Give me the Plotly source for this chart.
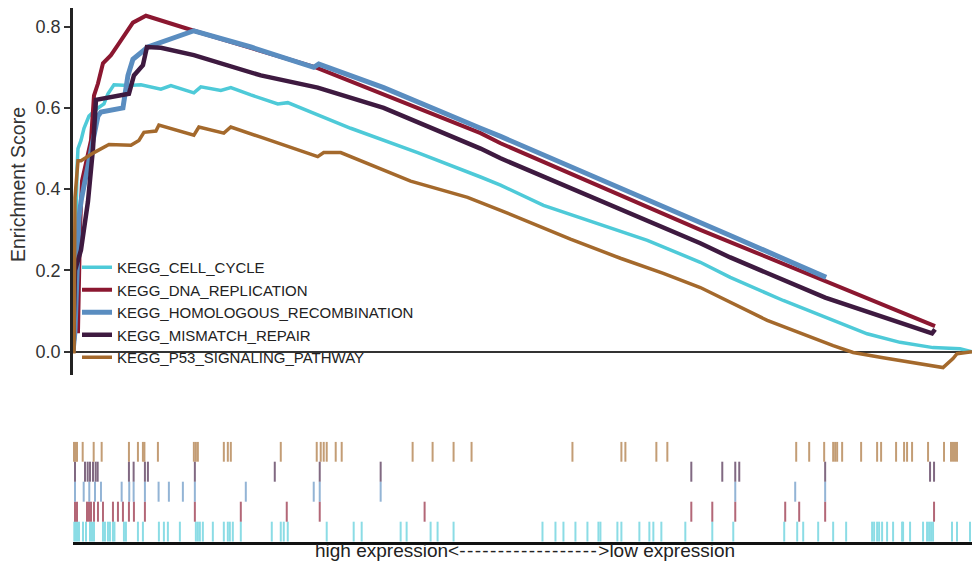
import plotly.graph_objects as go

# ---------------- data ----------------
N_GENES = 18000

set_names = ["KEGG_CELL_CYCLE", "KEGG_DNA_REPLICATION", "KEGG_HOMOLOGOUS_RECOMBINATION",
             "KEGG_MISMATCH_REPAIR", "KEGG_P53_SIGNALING_PATHWAY"]
set_colors = ["#4ECAD8", "#8B1730", "#5A8DC0", "#3E1A40", "#A4692C"]
line_widths = [3.5, 4, 5, 4.5, 3.5]

# running enrichment score curves (rank, ES)
cc_rank = [0, 20, 80, 100, 160, 220, 320, 500, 620, 700, 820, 1100, 1360, 1760, 1960, 2420, 2560,
           2960, 3160, 3560, 4100, 4300, 5560, 6900, 8160, 8560, 9420, 10500, 11500, 12560, 13160,
           14220, 15900, 16560, 17220, 17760, 18000]
cc_es = [0, 0.03, 0.45, 0.50, 0.52, 0.55, 0.58, 0.60, 0.61, 0.635, 0.657, 0.655, 0.657, 0.646, 0.655,
         0.637, 0.652, 0.643, 0.65, 0.632, 0.61, 0.613, 0.55, 0.49, 0.43, 0.41, 0.36, 0.316, 0.274,
         0.22, 0.183, 0.126, 0.044, 0.023, 0.01, 0.007, 0.0]

dna_rank = [0, 40, 100, 140, 180, 360, 420, 500, 600, 760, 900, 1200, 1460, 2420, 4860, 8160, 8560,
            12560, 17260]
dna_es = [0, 0.05, 0.05, 0.30, 0.42, 0.52, 0.63, 0.66, 0.71, 0.73, 0.755, 0.81, 0.827, 0.79, 0.70,
          0.538, 0.513, 0.30, 0.063]

hr_rank = [0, 40, 120, 160, 400, 500, 560, 1000, 1100, 1200, 1500, 1960, 2420, 3560, 4820, 4920,
           6220, 8160, 8560, 13160, 15080]
hr_es = [0, 0.05, 0.33, 0.37, 0.52, 0.58, 0.59, 0.60, 0.68, 0.72, 0.75, 0.77, 0.79, 0.75, 0.70, 0.708,
         0.65, 0.55, 0.53, 0.286, 0.183]

mmr_rank = [0, 40, 160, 300, 400, 460, 1120, 1220, 1400, 1480, 1760, 2420, 3760, 4900, 6220, 8160,
            8560, 12560, 13160, 15060, 17200, 17260]
mmr_es = [0, 0.20, 0.25, 0.37, 0.50, 0.62, 0.635, 0.68, 0.705, 0.75, 0.748, 0.73, 0.68, 0.65, 0.60,
          0.50, 0.476, 0.267, 0.232, 0.133, 0.045, 0.055]

p53_rank = [0, 20, 40, 100, 160, 420, 720, 1160, 1320, 1420, 1660, 1720, 2420, 2520, 3020, 3160, 3760,
            4900, 5020, 5360, 6760, 7900, 8560, 9960, 10960, 11820, 12560, 13900, 15220, 15620, 16220,
            16820, 17420, 17620, 17700, 18000]
p53_es = [0, 0.0, 0.38, 0.47, 0.47, 0.49, 0.51, 0.508, 0.52, 0.54, 0.543, 0.558, 0.533, 0.553, 0.538,
          0.553, 0.528, 0.48, 0.49, 0.49, 0.42, 0.38, 0.348, 0.277, 0.23, 0.193, 0.158, 0.077, 0.015,
          -0.002, -0.015, -0.027, -0.039, -0.017, -0.005, 0.0]

# positions of gene-set members in the ranked list (rug)
cc_hits = [26, 50, 80, 120, 200, 260, 340, 380, 420, 600, 640, 700, 740, 800, 830, 1020, 1060, 1300,
           1400, 1720, 1820, 1900, 2140, 2460, 2500, 2540, 2600, 2800, 3020, 3100, 3140, 3200, 3360,
           3980, 4160, 4220, 4300, 5080, 5620, 5780, 6560, 6680, 7160, 7300, 7620, 9400, 9660, 9820,
           10060, 10300, 10520, 10560, 10900, 10980, 11340, 11540, 11620, 11780, 12260, 12800, 13220,
           14240, 14500, 14620, 14920, 15220, 15480, 16000, 16040, 16100, 16140, 16200, 16300, 16420,
           16600, 16620, 16760, 17020, 17100, 17140, 17180, 17220, 17600, 17700, 17960]
dna_hits = [40, 80, 280, 320, 360, 420, 500, 600, 800, 900, 1000, 1120, 1220, 1440, 2440, 3360, 4280,
            4940, 7040, 12380, 12800, 13260, 14260, 14540, 15060, 17240]
hr_hits = [40, 214, 326, 440, 560, 974, 1126, 1214, 1440, 1714, 1920, 2200, 2440, 3460, 4820, 4940,
           6160, 13260, 14460, 15060]
mmr_hits = [40, 240, 294, 340, 400, 454, 494, 1120, 1214, 1440, 1500, 2440, 4040, 4940, 6160, 12380,
            13000, 13260, 13340, 15060, 17160, 17240]
p53_hits = [20, 50, 80, 194, 414, 574, 1120, 1300, 1400, 1430, 1700, 2420, 2460, 2500, 3020, 3100,
            3160, 4160, 4880, 4960, 5020, 5080, 5260, 5380, 6800, 7200, 7620, 7980, 10000, 10980,
            11060, 11680, 11900, 14480, 14740, 15040, 15220, 15260, 15300, 15400, 15780, 16100, 16180,
            16480, 16640, 16700, 16800, 17120, 17440, 17580, 17620, 17660, 17700]

y_ticks = [0.0, 0.2, 0.4, 0.6, 0.8]
y_tick_labels = ["0.0", "0.2", "0.4", "0.6", "0.8"]

curves = [(cc_rank, cc_es), (dna_rank, dna_es), (hr_rank, hr_es), (mmr_rank, mmr_es), (p53_rank, p53_es)]
hits = [cc_hits, dna_hits, hr_hits, mmr_hits, p53_hits]

# ---------------- figure ----------------
FONT = "Liberation Sans, Arial, Helvetica, sans-serif"
fig = go.Figure()

for name, color, lw, (xs, ys) in zip(set_names, set_colors, line_widths, curves):
    fig.add_trace(go.Scatter(x=xs, y=ys, mode="lines", name=name,
                             line=dict(color=color, width=lw),
                             xaxis="x", yaxis="y"))

for row, (name, color, h) in enumerate(zip(set_names, set_colors, hits)):
    rx, ry = [], []
    for r in h:
        rx += [r, r, None]
        ry += [row, row + 1, None]
    fig.add_trace(go.Scatter(x=rx, y=ry, mode="lines", line=dict(color=color, width=2),
                             opacity=0.65, showlegend=False, hoverinfo="skip",
                             xaxis="x2", yaxis="y2"))

W, H, L = 972, 562, 73
arrow_text = ("high expression&lt;<span style='letter-spacing:1.4px'>" + "-" * 18 +
              "</span>&gt;low expression")
fig.update_layout(
    width=W, height=H,
    margin=dict(l=L, r=0, t=0, b=0),
    paper_bgcolor="white", plot_bgcolor="white",
    font=dict(family=FONT, color="#333"),
    showlegend=True,
    legend=dict(x=(77 - L) / (W - L), y=1 - 251 / H, xanchor="left", yanchor="top",
                bgcolor="rgba(0,0,0,0)", font=dict(size=15, color="#222"),
                tracegroupgap=0, itemwidth=30),
    xaxis=dict(domain=[0, 1], range=[0, N_GENES], showgrid=False, zeroline=False,
               showline=False, showticklabels=False, ticks=""),
    yaxis=dict(domain=[1 - 375 / H, 1 - 8 / H], range=[-0.0574, 0.846], tickvals=y_ticks,
               ticktext=y_tick_labels, ticks="outside", ticklen=6, tickwidth=1.5,
               tickcolor="#333", showline=True, linewidth=2.5, linecolor="#222",
               zeroline=True, zerolinecolor="#333", zerolinewidth=1.5, showgrid=False,
               tickfont=dict(size=18, color="#333")),
    xaxis2=dict(domain=[0, 1], anchor="y2", range=[0, N_GENES], showgrid=False, zeroline=False,
                showline=True, linewidth=2.5, linecolor="#111", showticklabels=False, ticks=""),
    yaxis2=dict(domain=[1 - 541.7 / H, 1 - 441.7 / H], anchor="x2", range=[0, 5], visible=False),
    annotations=[
        dict(text="Enrichment Score", x=(18 - L) / (W - L), y=1 - 185 / H, xref="paper",
             yref="paper", textangle=-90, showarrow=False, font=dict(size=19.5, color="#333"),
             xanchor="center", yanchor="middle"),
        dict(text=arrow_text, x=(525 - L) / (W - L),
             y=0, xref="paper", yref="paper", showarrow=False, borderpad=0,
             font=dict(size=19, color="#222"), xanchor="center", yanchor="bottom"),
    ],
)

fig.write_html("out.html")
